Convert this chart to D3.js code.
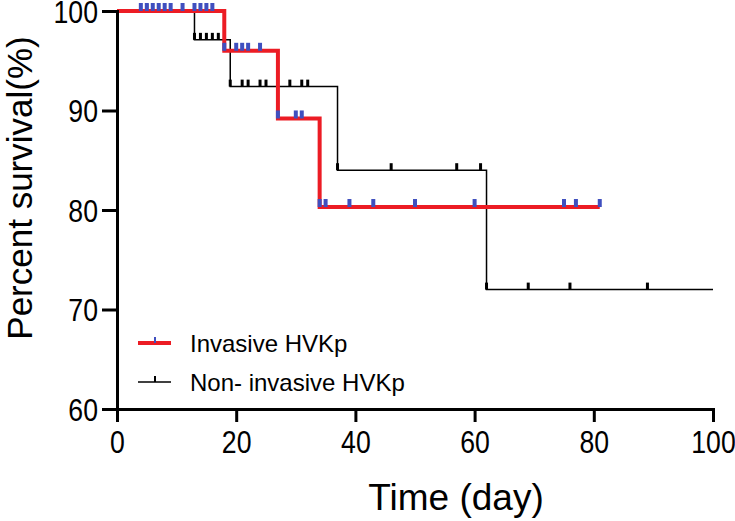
<!DOCTYPE html>
<html>
<head>
<meta charset="utf-8">
<script src="https://cdn.jsdelivr.net/npm/d3@7"></script>
<style>
  body { margin: 0; background: #fff; }
  text { font-family: "Liberation Sans", Arial, sans-serif; fill: #000; }
</style>
</head>
<body>
<div id="chart"></div>
<script>
// step curve: day where survival changes, and survival after it
const invTimes = [0, 18, 27, 34, 81];
const invSurv = [100, 96.0, 89.2, 80.3, 80.3];
const nonTimes = [0, 13, 19, 37, 62, 100];
const nonSurv = [100, 97.1, 92.4, 84.0, 72.0, 72.0];

// censored observations
const invCensorDays = [4, 5, 6, 7, 8, 9, 11, 13, 14, 15, 16, 18, 20, 21, 22, 24, 27, 30, 31, 34, 35, 39, 43, 50, 60, 75, 77, 81];
const nonCensorDays = [5, 13, 14, 15, 16, 17, 19, 21, 22, 24, 25, 29, 31, 32, 37, 46, 57, 61, 62, 69, 76, 89];

const xTicks = [0, 20, 40, 60, 80, 100];
const yTicks = [60, 70, 80, 90, 100];
const seriesNames = ["Invasive HVKp", "Non- invasive HVKp"];

let width = 735, height = 521;
let margin = { top: 11, right: 22, bottom: 112, left: 117 };

let svg = d3.select("#chart").append("svg")
  .attr("width", width)
  .attr("height", height);

let x = d3.scaleLinear().domain([0, 100]).range([margin.left, width - margin.right]);
let y = d3.scaleLinear().domain([60, 100]).range([height - margin.bottom, margin.top]);

// survival value at a given day for a step curve
function survAt(times, surv, day) {
  let v = surv[0];
  for (let i = 0; i < times.length; i++) {
    if (times[i] <= day) v = surv[i];
  }
  return v;
}

let stepLine = d3.line()
  .x(d => x(d[0]))
  .y(d => y(d[1]))
  .curve(d3.curveStepAfter);

// **************** Curves ****************
svg.append("path")
  .datum(nonTimes.map((t, i) => [t, nonSurv[i]]))
  .attr("d", stepLine)
  .attr("fill", "none")
  .attr("stroke", "#000")
  .attr("stroke-width", 1.5);

svg.selectAll("rect.nonc")
  .data(nonCensorDays)
  .enter().append("rect")
  .attr("class", "nonc")
  .attr("x", d => x(d) - 1.5)
  .attr("y", d => y(survAt(nonTimes, nonSurv, d)) - 7)
  .attr("width", 3)
  .attr("height", 7)
  .attr("fill", "#000");

svg.append("path")
  .datum(invTimes.map((t, i) => [t, invSurv[i]]))
  .attr("d", stepLine)
  .attr("fill", "none")
  .attr("stroke", "#ec1c24")
  .attr("stroke-width", 4);

svg.selectAll("rect.invc")
  .data(invCensorDays)
  .enter().append("rect")
  .attr("class", "invc")
  .attr("x", d => x(d) - 2)
  .attr("y", d => y(survAt(invTimes, invSurv, d)) - 8)
  .attr("width", 4)
  .attr("height", 8)
  .attr("fill", "#3f4fbf");

// **************** Axes ****************
// tick labels in the original use a slightly narrow face
let squeeze = 0.86;

let xAxis = svg.append("g")
  .attr("transform", "translate(0," + y(60) + ")")
  .call(d3.axisBottom(x).tickValues(xTicks).tickSize(13).tickPadding(4));

let yAxis = svg.append("g")
  .attr("transform", "translate(" + x(0) + ",0)")
  .call(d3.axisLeft(y).tickValues(yTicks).tickSize(15).tickPadding(4));

[xAxis, yAxis].forEach(function (g) {
  g.select(".domain").attr("stroke", "#000").attr("stroke-width", 3);
  g.selectAll(".tick line").attr("stroke", "#000").attr("stroke-width", 3);
  g.selectAll(".tick text")
    .attr("fill", "#000")
    .attr("transform", "scale(" + squeeze + ",1)")
    .style("font-size", "31px")
    .style("font-family", '"Liberation Sans", Arial, sans-serif');
});
xAxis.selectAll(".tick text").attr("dy", "0.88em");
yAxis.selectAll(".tick text")
  .attr("x", -19 / squeeze)
  .attr("dy", "0.36em");

svg.append("text")
  .attr("x", 456)
  .attr("y", 510)
  .attr("text-anchor", "middle")
  .style("font-size", "37px")
  .text("Time (day)");

svg.append("text")
  .attr("transform", "translate(32,188) rotate(-90)")
  .attr("text-anchor", "middle")
  .style("font-size", "35px")
  .text("Percent survival(%)");

// **************** Legend ****************
let legend = svg.append("g");
let legendY = [343, 382];
let legendStroke = ["#ec1c24", "#000"];
let legendWidth = [4, 1.5];
let legendTick = ["#3f4fbf", "#000"];

seriesNames.forEach(function (name, i) {
  legend.append("line")
    .attr("x1", 138).attr("x2", 171)
    .attr("y1", legendY[i]).attr("y2", legendY[i])
    .attr("stroke", legendStroke[i])
    .attr("stroke-width", legendWidth[i]);
  legend.append("rect")
    .attr("x", 154).attr("y", legendY[i] - 6)
    .attr("width", 2).attr("height", 6)
    .attr("fill", legendTick[i]);
  legend.append("text")
    .attr("x", 190)
    .attr("y", legendY[i])
    .attr("dy", "0.36em")
    .style("font-size", "24px")
    .text(name);
});
</script>
</body>
</html>
